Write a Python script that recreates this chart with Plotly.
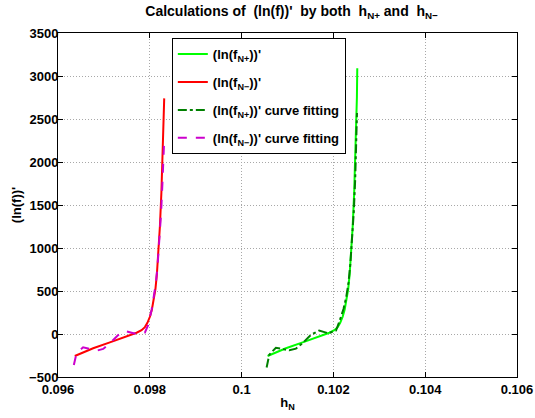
import plotly.graph_objects as go

# (ln(f_N-))' computed
red_x = [0.096366, 0.096766, 0.097130, 0.097494, 0.097712, 0.097820, 0.097893, 0.097948,
         0.098002, 0.098046, 0.098089, 0.098122, 0.098155, 0.098188, 0.098220, 0.098253,
         0.098279, 0.098299, 0.098314]
red_y = [-256, -166, -97, -31, 15, 45, 80, 130, 200, 285, 395, 520, 700, 950, 1250, 1650,
         2050, 2400, 2740]

# (ln(f_N-))' curve fitting
mag_x = [0.096345, 0.096403, 0.096547, 0.096694, 0.096840, 0.096984, 0.097130, 0.097311,
         0.097457, 0.097603, 0.097747, 0.097893, 0.097965, 0.098039, 0.098089, 0.098130,
         0.098170, 0.098210, 0.098245, 0.098275, 0.098298, 0.098314]
mag_y = [-360, -224, -155, -178, -194, -174, -108, -12, 35, 15, -3, 15, 105, 279, 420,
         580, 800, 1080, 1400, 1750, 2020, 2270]

# (ln(f_N+))' computed
grn_x = [0.100566, 0.100966, 0.101330, 0.101694, 0.101912, 0.102020, 0.102093, 0.102148,
         0.102202, 0.102246, 0.102289, 0.102322, 0.102355, 0.102388, 0.102420, 0.102453,
         0.102479, 0.102499, 0.102512, 0.102520]
grn_y = [-256, -166, -97, -31, 15, 45, 80, 130, 200, 285, 395, 520, 700, 950, 1250, 1650,
         2050, 2400, 2750, 3090]

# (ln(f_N+))' curve fitting
dg_x = [0.100545, 0.100603, 0.100747, 0.100894, 0.101040, 0.101184, 0.101330, 0.101511,
        0.101690, 0.101891, 0.102057, 0.102131, 0.102220, 0.102280, 0.102330, 0.102370,
        0.102410, 0.102445, 0.102475, 0.102498, 0.102514]
dg_y = [-390, -240, -160, -175, -190, -170, -105, -10, 40, 8, 40, 145, 290, 430,
        600, 820, 1100, 1430, 1800, 2150, 2570]

x_ticks = [0.096, 0.098, 0.100, 0.102, 0.104, 0.106]
x_tick_text = ["0.096", "0.098", "0.1", "0.102", "0.104", "0.106"]
y_ticks = [-500, 0, 500, 1000, 1500, 2000, 2500, 3000, 3500]
y_tick_text = ["\u2212500", "0", "500", "1000", "1500", "2000", "2500", "3000", "3500"]


def b(s):
    return "<b>" + s + "</b>"


fig = go.Figure()
fig.add_trace(go.Scatter(x=grn_x, y=grn_y, mode="lines", name=b("(ln(f<sub>N+</sub>))'"),
                         legendgroup="a", line=dict(color="#00ff00", width=2)))
fig.add_trace(go.Scatter(x=red_x, y=red_y, mode="lines", name=b("(ln(f<sub>N\u2212</sub>))'"),
                         legendgroup="b", line=dict(color="#ff0000", width=2)))
fig.add_trace(go.Scatter(x=dg_x, y=dg_y, mode="lines", name=b("(ln(f<sub>N+</sub>))' curve fitting"),
                         legendgroup="c", line=dict(color="#008000", width=2, dash="dashdot")))
fig.add_trace(go.Scatter(x=mag_x, y=mag_y, mode="lines", name=b("(ln(f<sub>N\u2212</sub>))' curve fitting"),
                         legendgroup="d", line=dict(color="#cc00cc", width=2, dash="dash")))

fnt = dict(family="Liberation Sans, Arial, sans-serif", size=13, color="black")
tfnt = dict(family="Liberation Sans, Arial, sans-serif", size=14, color="black")
lfnt = dict(family="Liberation Sans, Arial, sans-serif", size=13, color="black")

nb = "\u00a0"
title_txt = ("Calculations of " + nb + "(ln(f))'" + nb + " by both " + nb + "h<sub>N+</sub> and "
             + nb + "h<sub>N\u2212</sub>")

grid = dict(showgrid=True, gridcolor="#a8a8a8", griddash="1px,2px", gridwidth=1)

fig.update_layout(
    width=535, height=418,
    margin=dict(l=58, r=18, t=33, b=41, autoexpand=False),
    paper_bgcolor="white", plot_bgcolor="white",
    font=fnt,
    title=dict(text=b(title_txt), x=0.545, xanchor="center", y=0.985, yanchor="top", font=tfnt),
    showlegend=True,
    legend=dict(x=0.248, y=0.985, xanchor="left", yanchor="top",
                bgcolor="white", bordercolor="black", borderwidth=1,
                font=lfnt, tracegroupgap=8, itemwidth=30),
)
fig.update_xaxes(range=[0.096, 0.106], tickvals=x_ticks, ticktext=[b(t) for t in x_tick_text],
                 showline=True, linecolor="black", linewidth=1, mirror="ticks",
                 ticks="inside", ticklen=5, tickcolor="black", automargin=False,
                 zeroline=False, tickfont=fnt, **grid,
                 title=dict(text=b("h<sub>N</sub>"), font=fnt, standoff=2))
fig.update_yaxes(range=[-500, 3500], tickvals=y_ticks, ticktext=[b(t) for t in y_tick_text],
                 showline=True, linecolor="black", linewidth=1, mirror="ticks",
                 ticks="inside", ticklen=5, tickcolor="black", automargin=False,
                 ticklabelstandoff=-4,
                 zeroline=False, tickfont=fnt, **grid,
                 title=dict(text=b("(ln(f))'"), font=fnt, standoff=4))

fig.write_html("out.html", config={"displayModeBar": False},
               post_script="document.body.style.margin='0px';")
